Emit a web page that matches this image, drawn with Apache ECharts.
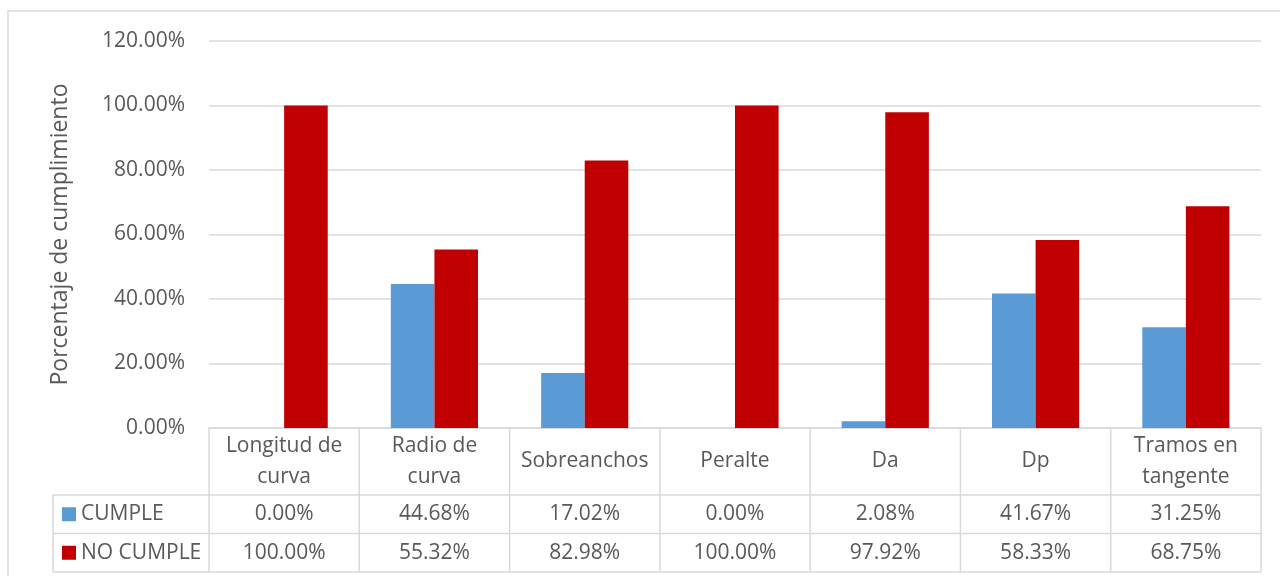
<!DOCTYPE html>
<html>
<head>
<meta charset="utf-8">
<script src="https://cdn.jsdelivr.net/npm/echarts@6/dist/echarts.min.js"></script>
<style>
html,body{margin:0;padding:0;background:#fff;}
#c{width:1280px;height:576px;}
</style>
</head>
<body>
<div id="c"></div>
<script>
const categories = ['Longitud de\ncurva', 'Radio de\ncurva', 'Sobreanchos', 'Peralte', 'Da', 'Dp', 'Tramos en\ntangente'];
const seriesNames = ['CUMPLE', 'NO CUMPLE'];
const cumple = [0.0, 44.68, 17.02, 0.0, 2.08, 41.67, 31.25];
const noCumple = [100.0, 55.32, 82.98, 100.0, 97.92, 58.33, 68.75];
const yTicks = [0, 20, 40, 60, 80, 100, 120];
const colors = ['#5B9BD5', '#C00000'];

const FONT = '"Open Sans", "Noto Sans", sans-serif';
const TXT = '#595959';
const LINE = '#D9D9D9';

const chart = echarts.init(document.getElementById('c'), null, {renderer: 'canvas'});
const pct = v => v.toFixed(2) + '%';

chart.setOption({
  animation: false,
  backgroundColor: '#fff',
  grid: {left: 209, right: 19, top: 41, bottom: 148, containLabel: false},
  xAxis: {
    type: 'category',
    data: categories,
    axisLine: {show: true, lineStyle: {color: LINE, width: 1.5}},
    axisTick: {show: false},
    axisLabel: {show: false},
    splitLine: {show: false}
  },
  yAxis: {
    type: 'value',
    min: yTicks[0],
    max: yTicks[yTicks.length - 1],
    interval: yTicks[1] - yTicks[0],
    name: 'Porcentaje de cumplimiento',
    nameLocation: 'middle',
    nameGap: 137,
    nameTextStyle: {color: TXT, fontFamily: FONT, fontSize: 23},
    axisLine: {show: false},
    axisTick: {show: false},
    axisLabel: {color: TXT, fontFamily: FONT, fontSize: 21, margin: 24, formatter: v => pct(v)},
    splitLine: {lineStyle: {color: LINE, width: 1.5}}
  },
  series: [
    {name: seriesNames[0], type: 'bar', data: cumple, barGap: '0%', barCategoryGap: '42%',
     itemStyle: {color: colors[0]}},
    {name: seriesNames[1], type: 'bar', data: noCumple, barGap: '0%', barCategoryGap: '42%',
     itemStyle: {color: colors[1]}}
  ]
});

// Build the data table from the axis geometry
function buildTable() {
  const n = categories.length;
  const x0 = chart.convertToPixel({xAxisIndex: 0}, 0);
  const x1 = chart.convertToPixel({xAxisIndex: 0}, 1);
  const cw = x1 - x0;
  const left = x0 - cw / 2;
  const right = left + cw * n;
  const base = chart.convertToPixel({yAxisIndex: 0}, 0);
  const headerH = 67, rowH = 38.5;
  const r1 = base + headerH, r2 = r1 + rowH, r3 = r2 + rowH;
  const tableLeft = 53;
  const els = [];
  const ls = {stroke: LINE, lineWidth: 1.5};
  // outer chart border
  els.push({type: 'rect', shape: {x: 8, y: 11, width: 1300, height: 600}, style: {fill: null, stroke: LINE, lineWidth: 1.5}, silent: true});
  // vertical lines at category boundaries
  for (let i = 0; i <= n; i++) {
    const x = left + i * cw;
    els.push({type: 'line', shape: {x1: x, y1: base, x2: x, y2: r3}, style: ls});
  }
  // horizontal lines
  [r1, r2, r3].forEach(y => els.push({type: 'line', shape: {x1: tableLeft, y1: y, x2: right, y2: y}, style: ls}));
  els.push({type: 'line', shape: {x1: tableLeft, y1: r1, x2: tableLeft, y2: r3}, style: ls});
  // header texts
  for (let i = 0; i < n; i++) {
    const cx = left + (i + 0.5) * cw;
    els.push({type: 'text', x: cx, y: base + headerH / 2, style: {text: categories[i], fill: TXT, font: '21px ' + FONT, align: 'center', verticalAlign: 'middle', lineHeight: 31}});
    els.push({type: 'text', x: cx, y: (r1 + r2) / 2, style: {text: pct(cumple[i]), fill: TXT, font: '21px ' + FONT, align: 'center', verticalAlign: 'middle'}});
    els.push({type: 'text', x: cx, y: (r2 + r3) / 2, style: {text: pct(noCumple[i]), fill: TXT, font: '21px ' + FONT, align: 'center', verticalAlign: 'middle'}});
  }
  // legend keys
  [[r1, r2], [r2, r3]].forEach((rr, k) => {
    const cy = (rr[0] + rr[1]) / 2;
    els.push({type: 'rect', shape: {x: 62, y: cy - 7, width: 14, height: 14}, style: {fill: colors[k]}});
    els.push({type: 'text', x: 81, y: cy, style: {text: seriesNames[k], fill: TXT, font: '21px ' + FONT, align: 'left', verticalAlign: 'middle'}});
  });
  chart.setOption({graphic: {elements: els}});
}
buildTable();
</script>
</body>
</html>
